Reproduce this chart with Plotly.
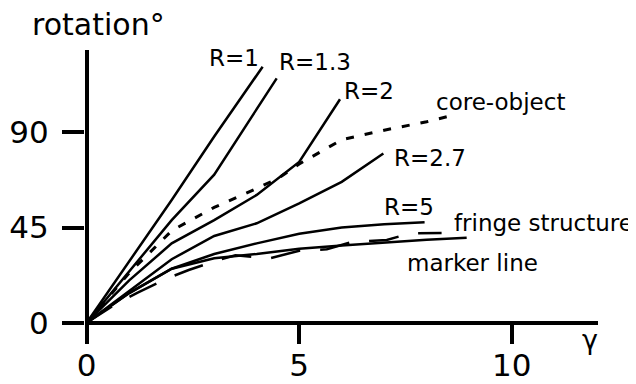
import plotly.graph_objects as go

# ---- data ----
r1_x = [0, 1, 2, 3, 4.14]
r1_y = [0, 29, 58, 88, 121]

r13_x = [0, 1, 2, 3, 4, 4.47]
r13_y = [0, 24, 48.5, 70, 101, 115.5]

r2_x = [0, 1, 2, 3, 4, 5, 5.96]
r2_y = [0, 20, 37.5, 48.5, 60.4, 76, 105.6]

core_x = [0, 1, 2, 3, 4, 4.5, 5, 6, 7, 8, 8.5]
core_y = [0, 23.5, 43.5, 54.5, 63.5, 68.2, 75, 86.5, 91, 95, 97.5]

r27_x = [0, 1, 2, 3, 4, 5, 6, 6.98]
r27_y = [0, 15, 30, 41, 47, 56.4, 66.6, 80]

r5_x = [0, 1, 2, 3, 4, 5, 6, 7, 7.95]
r5_y = [0, 14, 25.5, 32.5, 37.5, 42, 45, 46.5, 47.5]

marker_x = [0, 1, 2, 3, 4, 5, 6, 7, 8, 8.94]
marker_y = [0, 14, 25.5, 30.5, 32.5, 35, 36.5, 38, 39.2, 40.2]

fringe_x = [0, 0.7, 1.2, 1.9, 2.4, 3.1, 3.5, 4.3, 5.0, 5.65, 6.27, 7.06, 7.6, 8.35]
fringe_y = [0, 9, 14.2, 21, 24.9, 29.6, 31.9, 30.4, 34, 34.7, 38.3, 39.1, 42.2, 42.4]

x_ticks = [0, 5, 10]
y_ticks = [0, 45, 90]

labels = ["R=1", "R=1.3", "R=2", "core-object", "R=2.7", "R=5", "fringe structure", "marker line"]
label_x = [3.46, 5.38, 6.64, 9.73, 8.08, 7.58, 10.75, 9.08]
label_y = [125.1, 123.0, 109.5, 104.2, 77.8, 54.7, 47.1, 28.2]

FONT = "DejaVu Sans"
OFF = 8  # default page body margin
W, H = 636 - OFF, 384 - OFF
L, R, T, B = 85 - OFF, 38, 50 - OFF, 60
PW, PH = W - L - R, H - T - B

fig = go.Figure()

solid = dict(color="black", width=2.5)
for xs, ys in [(r1_x, r1_y), (r13_x, r13_y), (r2_x, r2_y), (r27_x, r27_y),
               (r5_x, r5_y), (marker_x, marker_y)]:
    fig.add_trace(go.Scatter(x=xs, y=ys, mode="lines", line=solid,
                             showlegend=False, hoverinfo="skip"))

fig.add_trace(go.Scatter(x=core_x, y=core_y, mode="lines",
                         line=dict(color="black", width=3, dash="8px,11px"),
                         showlegend=False, hoverinfo="skip"))
fig.add_trace(go.Scatter(x=fringe_x, y=fringe_y, mode="lines",
                         line=dict(color="black", width=2.5, dash="30px,20px"),
                         showlegend=False, hoverinfo="skip"))

for t, lx, ly in zip(labels, label_x, label_y):
    fig.add_annotation(x=lx, y=ly, xref="x", yref="y", text=t, showarrow=False,
                       font=dict(family=FONT, size=23, color="black"),
                       xanchor="center", yanchor="middle")


def px_to_paper(px, py):
    # px, py are page pixels
    return (px - OFF - L) / PW, (H - B - (py - OFF)) / PH


tx, ty = px_to_paper(98, 24)
fig.add_annotation(x=tx, y=ty, xref="paper", yref="paper",
                   text="rotation°", showarrow=False,
                   font=dict(family=FONT, size=30, color="black"),
                   xanchor="center", yanchor="middle")
gx, gy = px_to_paper(590, 339)
fig.add_annotation(x=gx, y=gy, xref="paper", yref="paper",
                   text="γ", showarrow=False,
                   font=dict(family=FONT, size=27, color="black"),
                   xanchor="center", yanchor="middle")

fig.update_layout(
    template="none",
    width=W, height=H,
    margin=dict(l=L, r=R, t=T, b=B, pad=0, autoexpand=False),
    paper_bgcolor="white", plot_bgcolor="white",
    xaxis=dict(range=[-0.04, 12.03], showgrid=False, showline=False, automargin=False,
               zeroline=True, zerolinecolor="black", zerolinewidth=4,
               tickmode="array", tickvals=x_ticks, ticktext=[str(v) for v in x_ticks],
               ticks="outside", ticklen=19, tickwidth=4, tickcolor="black",
               tickfont=dict(family=FONT, size=31, color="black"),
               ticklabelstandoff=-5),
    yaxis=dict(range=[-0.61, 128.9], showgrid=False, showline=False, automargin=False,
               zeroline=True, zerolinecolor="black", zerolinewidth=4,
               tickmode="array", tickvals=y_ticks, ticktext=[str(v) for v in y_ticks],
               ticks="outside", ticklen=22, tickwidth=4, tickcolor="black",
               tickfont=dict(family=FONT, size=31, color="black"),
               ticklabelstandoff=7),
)

fig.write_html("out.html")
